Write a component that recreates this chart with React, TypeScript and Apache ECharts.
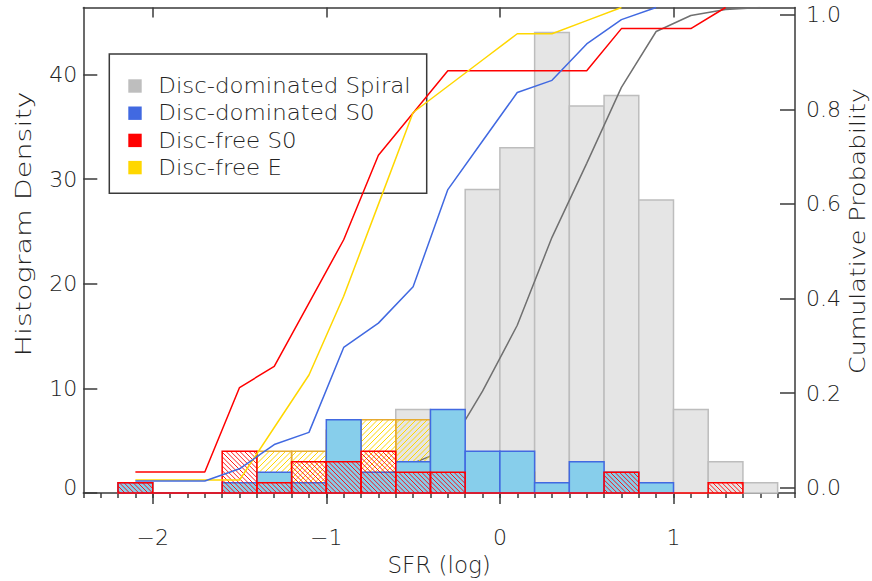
import React, { useEffect, useRef } from "react";
import * as echarts from "echarts";

// Histogram bins (log SFR), width 0.2
const binCenters = [-2.1, -1.9, -1.7, -1.5, -1.3, -1.1, -0.9, -0.7, -0.5, -0.3, -0.1, 0.1, 0.3, 0.5, 0.7, 0.9, 1.1, 1.3, 1.5];
const BIN_WIDTH = 0.2;

// Counts per bin for each morphological class
const spiralDomCounts = [0, 0, 0, 0, 0, 0, 5, 2, 8, 7, 29, 33, 44, 37, 38, 28, 8, 3, 1];
const s0DomCounts = [1, 0, 0, 1, 2, 1, 7, 2, 3, 8, 4, 4, 1, 3, 2, 1, 0, 0, 0];
const s0FreeCounts = [1, 0, 0, 4, 1, 3, 3, 4, 2, 2, 0, 0, 0, 0, 2, 0, 0, 1, 0];
const eFreeCounts = [1, 0, 0, 0, 4, 4, 6, 7, 7, 2, 2, 2, 0, 1, 1, 0, 0, 0, 0];

const seriesNames = ["Disc-dominated Spiral", "Disc-dominated S0", "Disc-free S0", "Disc-free E"];
const legendColors = ["#BEBEBE", "#4169E1", "#FF0000", "#FFD700"];

// Axis ticks
const xMajorTicks = [-2, -1, 0, 1];
const xMinorTicks = [-2.4, -2.3, -2.2, -2.1, -2.0, -1.9, -1.8, -1.7, -1.6, -1.5, -1.4, -1.3, -1.2, -1.1, -1.0, -0.9, -0.8, -0.7, -0.6, -0.5, -0.4, -0.3, -0.2, -0.1, 0.0, 0.1, 0.2, 0.3, 0.4, 0.5, 0.6, 0.7, 0.8, 0.9, 1.0, 1.1, 1.2, 1.3, 1.4, 1.5, 1.6, 1.7];
const densityTicks = [0, 10, 20, 30, 40];
const probTicks = [0, 0.2, 0.4, 0.6, 0.8, 1.0];

const FONT = "'DejaVu Sans', sans-serif";
const TEXT_COLOR = "#222";
const FRAME = "#3a3a3a";

function nonZeroSpan(counts: number[]): [number, number] {
  const a = counts.findIndex((v) => v > 0);
  let b = counts.length - 1;
  while (b > 0 && counts[b] === 0) b--;
  return [a, b];
}

function histData(counts: number[]) {
  const [a, b] = nonZeroSpan(counts);
  const out: number[][] = [];
  for (let i = a; i <= b; i++) out.push([binCenters[i], counts[i]]);
  return out;
}

function cumulativeData(counts: number[]) {
  const [a, b] = nonZeroSpan(counts);
  const total = counts.reduce((s, v) => s + v, 0);
  let run = 0;
  for (let i = 0; i < a; i++) run += counts[i];
  const out: number[][] = [];
  for (let i = a; i <= b; i++) {
    run += counts[i];
    out.push([binCenters[i], run / total]);
  }
  return out;
}

type HatchDir = "back" | "fwd";
interface Hatch {
  color: string;
  dir: HatchDir;
  step: number;
  width: number;
}
interface BarStyle {
  fill?: string;
  stroke: string;
  hatch?: Hatch;
}

function hatchLines(x0: number, y0: number, x1: number, y1: number, h: Hatch) {
  const lines: any[] = [];
  const s = h.step;
  const style = { stroke: h.color, lineWidth: h.width };
  if (h.dir === "back") {
    // screen lines y = x + k
    const kMin = Math.ceil((y0 - x1) / s) * s;
    for (let k = kMin; k <= y1 - x0; k += s) {
      const xa = Math.max(x0, y0 - k);
      const xb = Math.min(x1, y1 - k);
      if (xb - xa > 0.3) lines.push({ type: "line", shape: { x1: xa, y1: xa + k, x2: xb, y2: xb + k }, style });
    }
  } else {
    // screen lines y = -x + k
    const kMin = Math.ceil((x0 + y0) / s) * s;
    for (let k = kMin; k <= x1 + y1; k += s) {
      const xa = Math.max(x0, k - y1);
      const xb = Math.min(x1, k - y0);
      if (xb - xa > 0.3) lines.push({ type: "line", shape: { x1: xa, y1: k - xa, x2: xb, y2: k - xb }, style });
    }
  }
  return lines;
}

function barRenderer(st: BarStyle) {
  return (_params: any, api: any) => {
    const c = api.value(0);
    const v = api.value(1);
    const tl = api.coord([c - BIN_WIDTH / 2, v]);
    const br = api.coord([c + BIN_WIDTH / 2, 0]);
    const x0 = tl[0], y0 = tl[1], x1 = br[0], y1 = br[1];
    const children: any[] = [];
    if (st.fill && y1 - y0 > 0) {
      children.push({ type: "rect", shape: { x: x0, y: y0, width: x1 - x0, height: y1 - y0 }, style: { fill: st.fill } });
    }
    if (st.hatch && y1 - y0 > 0) children.push(...hatchLines(x0, y0, x1, y1, st.hatch));
    children.push({
      type: "polygon",
      shape: { points: [[x0, y0], [x1, y0], [x1, y1], [x0, y1]] },
      style: { fill: "none", stroke: st.stroke, lineWidth: 1.5 },
    });
    return { type: "group", children };
  };
}

function histSeries(name: string, counts: number[], st: BarStyle, z: number) {
  return {
    type: "custom",
    name,
    xAxisIndex: 0,
    yAxisIndex: 0,
    z,
    silent: true,
    data: histData(counts),
    renderItem: barRenderer(st),
  };
}

function cumSeries(name: string, counts: number[], color: string, z: number) {
  return {
    type: "line",
    name: name + " (cumulative)",
    xAxisIndex: 0,
    yAxisIndex: 2,
    z,
    silent: true,
    showSymbol: false,
    data: cumulativeData(counts),
    lineStyle: { color, width: 1.5 },
  };
}

export default function App() {
  const ref = useRef<HTMLDivElement>(null);
  useEffect(() => {
    if (!ref.current) return;
    const chart = echarts.init(ref.current, undefined, { renderer: "svg" });

    const legendX = 109.3, legendY = 54;
    const legendChildren: any[] = [
      { type: "rect", shape: { x: legendX, y: legendY, width: 317.4, height: 139.3 }, style: { fill: "#fff", stroke: FRAME, lineWidth: 1.5 } },
    ];
    seriesNames.forEach((n, i) => {
      const cy = 86 + i * 27.2;
      legendChildren.push({ type: "rect", shape: { x: 128.3, y: cy - 6.7, width: 13.4, height: 13.4 }, style: { fill: legendColors[i] } });
      legendChildren.push({
        type: "text",
        x: 158.3,
        y: cy,
        scaleX: 1.09,
        style: { text: n, fill: TEXT_COLOR, font: `200 21px ${FONT}`, textAlign: "left", textVerticalAlign: "middle" },
      });
    });

    chart.setOption({
      animation: false,
      backgroundColor: "#fff",
      grid: { left: 83.3, right: 77, top: 7.5, bottom: 82.7, containLabel: false },
      xAxis: [
        {
          type: "value",
          min: -2.4,
          max: 1.7,
          position: "bottom",
          name: "SFR (log)",
          nameLocation: "middle",
          nameGap: 56,
          nameTextStyle: { fontFamily: FONT, fontWeight: 200, fontSize: 23, color: TEXT_COLOR },
          axisLine: { show: true, onZero: false, lineStyle: { color: FRAME, width: 1.5 } },
          axisTick: { show: true, inside: false, length: 11, customValues: xMajorTicks, lineStyle: { color: FRAME, width: 1.5 } },
          axisLabel: {
            show: true,
            customValues: xMajorTicks,
            margin: 33,
            fontFamily: FONT,
            fontWeight: 200,
            fontSize: 22,
            color: TEXT_COLOR,
            formatter: (v: number) => (v < 0 ? "\u2212" + Math.abs(v) : String(v)),
          },
          splitLine: { show: false },
        },
        {
          type: "value",
          min: -2.4,
          max: 1.7,
          position: "top",
          axisLine: { show: true, onZero: false, lineStyle: { color: FRAME, width: 1.5 } },
          axisTick: { show: true, inside: true, length: 10, customValues: xMajorTicks, lineStyle: { color: FRAME, width: 1.5 } },
          axisLabel: { show: false },
          splitLine: { show: false },
        },
        {
          type: "value",
          min: -2.4,
          max: 1.7,
          position: "bottom",
          axisLine: { show: false },
          axisTick: { show: true, inside: false, length: 5, customValues: xMinorTicks, lineStyle: { color: FRAME, width: 1.5 } },
          axisLabel: { show: false },
          splitLine: { show: false },
        },
      ],
      yAxis: [
        {
          type: "value",
          min: 0,
          max: 46.4,
          position: "left",
          axisLine: { show: true, onZero: false, lineStyle: { color: FRAME, width: 1.5 } },
          axisTick: { show: true, inside: true, length: 14, customValues: densityTicks, lineStyle: { color: FRAME, width: 1.5 } },
          axisLabel: {
            show: true,
            customValues: densityTicks,
            margin: 6,
            fontFamily: FONT,
            fontWeight: 200,
            fontSize: 22,
            color: TEXT_COLOR,
            formatter: (v: number) => (v === 0 ? "{z|0}" : String(v)),
            rich: { z: { fontFamily: FONT, fontWeight: 200, fontSize: 22, color: TEXT_COLOR, padding: [0, 0, 12, 0] } },
          },
          splitLine: { show: false },
        },
        {
          type: "value",
          min: -0.011,
          max: 1.015,
          position: "right",
          axisLine: { show: true, onZero: false, lineStyle: { color: FRAME, width: 1.5 } },
          axisTick: { show: true, inside: true, length: 15, customValues: probTicks, lineStyle: { color: FRAME, width: 1.5 } },
          axisLabel: {
            show: true,
            customValues: probTicks,
            margin: 11,
            fontFamily: FONT,
            fontWeight: 200,
            fontSize: 22,
            color: TEXT_COLOR,
            formatter: (v: number) => v.toFixed(1),
          },
          splitLine: { show: false },
        },
        { type: "value", min: 0, max: 1, show: false },
      ],
      graphic: [
        {
          type: "text",
          x: 23,
          y: 224,
          rotation: Math.PI / 2,
          scaleX: 1.3,
          style: { text: "Histogram Density", fill: TEXT_COLOR, font: `200 22px ${FONT}`, textAlign: "center", textVerticalAlign: "middle" },
        },
        {
          type: "text",
          x: 858,
          y: 231,
          rotation: Math.PI / 2,
          scaleX: 1.15,
          style: { text: "Cumulative Probability", fill: TEXT_COLOR, font: `200 22px ${FONT}`, textAlign: "center", textVerticalAlign: "middle" },
        },
        { type: "group", z: 100, children: legendChildren },
      ],
      series: [
        histSeries(seriesNames[0], spiralDomCounts, { fill: "#E5E5E5", stroke: "#BDBDBD" }, 1),
        cumSeries(seriesNames[0], spiralDomCounts, "#707070", 2),
        histSeries(seriesNames[3], eFreeCounts, { stroke: "#E6AA30", hatch: { color: "#FFD700", dir: "fwd", step: 5.5, width: 1 } }, 3),
        histSeries(seriesNames[1], s0DomCounts, { fill: "#87CEEB", stroke: "#4169E1" }, 4),
        histSeries(seriesNames[2], s0FreeCounts, { stroke: "#FF0000", hatch: { color: "#FF0000", dir: "back", step: 4.6, width: 0.9 } }, 5),
        cumSeries(seriesNames[2], s0FreeCounts, "#FF0000", 6),
        cumSeries(seriesNames[3], eFreeCounts, "#FFD700", 6),
        cumSeries(seriesNames[1], s0DomCounts, "#4169E1", 6),
      ],
    });
    return () => chart.dispose();
  }, []);
  return <div ref={ref} style={{ position: "fixed", left: 0, top: 0, width: 872, height: 581, background: "#fff" }} />;
}
